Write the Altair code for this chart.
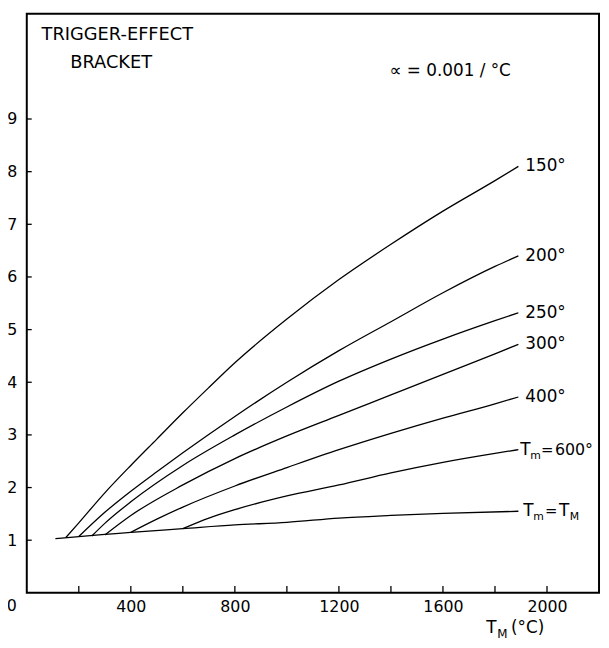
import altair as alt
import pandas as pd

FONT = "DejaVu Sans"

# ---- data ----
x_150 = [150, 200, 300, 400, 500, 600, 700, 800, 1000, 1200, 1400, 1600, 1800, 1890]
y_150 = [1.05, 1.33, 1.90, 2.42, 2.92, 3.42, 3.90, 4.37, 5.20, 5.95, 6.62, 7.25, 7.83, 8.10]

x_200 = [200, 300, 400, 500, 600, 800, 1000, 1200, 1400, 1600, 1800, 1890]
y_200 = [1.07, 1.53, 1.93, 2.30, 2.66, 3.35, 4.00, 4.60, 5.15, 5.70, 6.20, 6.40]

x_250 = [250, 300, 400, 600, 800, 1000, 1200, 1400, 1600, 1800, 1890]
y_250 = [1.08, 1.32, 1.73, 2.42, 3.00, 3.53, 4.02, 4.44, 4.82, 5.17, 5.32]

x_300 = [300, 400, 600, 800, 1000, 1200, 1400, 1600, 1800, 1890]
y_300 = [1.10, 1.47, 2.05, 2.55, 2.98, 3.37, 3.76, 4.15, 4.54, 4.72]

x_400 = [400, 500, 600, 800, 1000, 1200, 1400, 1600, 1800, 1890]
y_400 = [1.15, 1.40, 1.63, 2.03, 2.38, 2.72, 3.03, 3.32, 3.59, 3.72]

x_600 = [600, 700, 800, 1000, 1200, 1400, 1600, 1800, 1890]
y_600 = [1.22, 1.42, 1.58, 1.84, 2.05, 2.28, 2.48, 2.65, 2.72]

x_base = [110, 200, 300, 400, 600, 800, 1000, 1200, 1400, 1600, 1890]
y_base = [1.03, 1.07, 1.11, 1.15, 1.22, 1.29, 1.34, 1.42, 1.47, 1.51, 1.55]

series_names = ["150", "200", "250", "300", "400", "600", "base"]
series_x = [x_150, x_200, x_250, x_300, x_400, x_600, x_base]
series_y = [y_150, y_200, y_250, y_300, y_400, y_600, y_base]

simple_labels = ["150°", "200°", "250°", "300°", "400°"]

x_tick_values = [200, 400, 600, 800, 1000, 1200, 1400, 1600, 1800, 2000]
x_label_values = [400, 800, 1200, 1600, 2000]
y_tick_values = [1, 2, 3, 4, 5, 6, 7, 8, 9]

W, H = 579, 586

rows = []
for name, xs_, ys_ in zip(series_names, series_x, series_y):
    for xv, yv in zip(xs_, ys_):
        rows.append({"series": name, "x": xv, "y": yv})
df = pd.DataFrame(rows)

xs = alt.Scale(domain=[0, 2200], nice=False, zero=False)
ys = alt.Scale(domain=[0, 11], nice=False, zero=False)

x_axis = alt.Axis(values=x_label_values, ticks=False, domain=False, grid=False, format="d",
                  labelPadding=6, labelFontSize=16, labelFont=FONT, labelColor="black",
                  title=None, labelFlush=False)
y_axis = alt.Axis(values=y_tick_values, ticks=False, domain=False, grid=False, format="d",
                  labelPadding=10, labelFontSize=16, labelFont=FONT, labelColor="black",
                  title=None, labelFlush=False)

lines = alt.Chart(df).mark_line(color="black", strokeWidth=1.3, interpolate="monotone").encode(
    x=alt.X("x:Q", scale=xs, axis=x_axis),
    y=alt.Y("y:Q", scale=ys, axis=y_axis),
    detail="series:N",
)

# inward ticks
xt = alt.Chart(pd.DataFrame({"v": x_tick_values})).mark_rule(color="black", strokeWidth=1.3).encode(
    x=alt.X("v:Q", scale=xs), y=alt.value(H), y2=alt.value(H - 7))
yt = alt.Chart(pd.DataFrame({"v": y_tick_values})).mark_rule(color="black", strokeWidth=1.3).encode(
    y=alt.Y("v:Q", scale=ys), x=alt.value(0), x2=alt.value(5))

zero_lbl = alt.Chart(pd.DataFrame({"x": [0], "y": [0], "t": ["0"]})).mark_text(
    font=FONT, fontSize=16, fill="black", align="right", baseline="middle", dx=-10, dy=13
).encode(x=alt.X("x:Q", scale=xs), y=alt.Y("y:Q", scale=ys), text="t:N")

# curve end labels
ends = pd.DataFrame({
    "x": [series_x[i][-1] for i in range(5)],
    "y": [series_y[i][-1] for i in range(5)],
    "t": simple_labels,
})
end_lbl = alt.Chart(ends).mark_text(font=FONT, fontSize=17, fill="black", align="left",
                                    baseline="middle", dx=7).encode(
    x=alt.X("x:Q", scale=xs), y=alt.Y("y:Q", scale=ys), text="t:N")


def piece(xv, yv, t, dx, dy=0, size=17):
    return alt.Chart(pd.DataFrame({"x": [xv], "y": [yv], "t": [t]})).mark_text(
        font=FONT, fontSize=size, fill="black", align="left", baseline="middle", dx=dx, dy=dy
    ).encode(x=alt.X("x:Q", scale=xs), y=alt.Y("y:Q", scale=ys), text="t:N")


x6, y6 = x_600[-1], y_600[-1]
xb, yb = x_base[-1], y_base[-1]
tm600 = [
    piece(x6, y6, "T", 2),
    piece(x6, y6, "m", 12, 6, 11),
    piece(x6, y6, "=", 23, 0, 15),
    piece(x6, y6, "600°", 37, 0, 16),
]
tmtm = [
    piece(xb, yb, "T", 5),
    piece(xb, yb, "m", 15, 6, 11),
    piece(xb, yb, "=", 27, 0, 15),
    piece(xb, yb, "T", 41),
    piece(xb, yb, "M", 52, 6, 11),
]

# annotations
def note(xpix, ypix, t, size=18, align="left"):
    return alt.Chart(pd.DataFrame({"t": [t]})).mark_text(
        font=FONT, fontSize=size, fill="black", align=align, baseline="middle"
    ).encode(x=alt.value(xpix), y=alt.value(ypix), text="t:N")

notes = [
    note(15, 22, "TRIGGER-EFFECT"),
    note(44, 50, "BRACKET"),
    note(367, 58, "∝ = 0.001  / °C", 17),
    note(465, 622, "T", 17),
    note(476, 628, "M", 12),
    note(490, 622, "(°C)", 17),
]

chart = alt.layer(lines, xt, yt, zero_lbl, end_lbl, *tm600, *tmtm, *notes).properties(
    width=W, height=H,
    padding={"left": 19, "top": 2, "right": 2, "bottom": 50},
    autosize="none",
).configure_view(stroke="black", strokeWidth=2)

chart.save("out.html", embed_options={"renderer": "svg", "actions": False})
